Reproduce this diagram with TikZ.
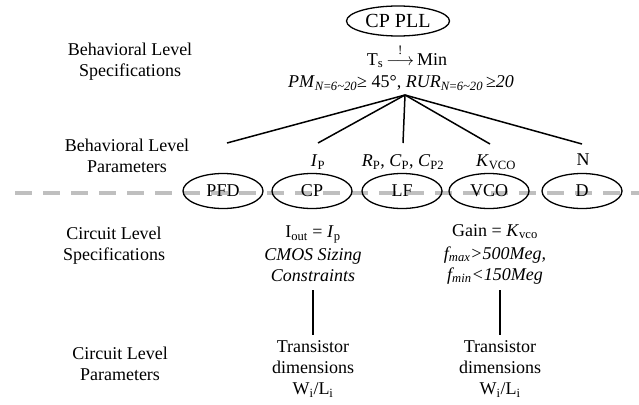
\documentclass[tikz,border=0pt]{standalone}
\usepackage{amsmath}
\usepackage{fontspec}
\setmainfont{Liberation Serif}
\usetikzlibrary{shapes.geometric}
\newcommand{\subs}[1]{\textsubscript{#1}}
\begin{document}
\begin{tikzpicture}[x=1pt,y=-1pt,
  every node/.style={inner sep=0pt,outer sep=0pt},
  lbl/.style={align=center,font=\fontsize{18}{21}\selectfont},
  blk/.style={ellipse,draw,line width=1.3pt,minimum width=80pt,minimum height=35pt,font=\fontsize{18}{21}\selectfont},
  top/.style={ellipse,draw,line width=1.3pt,minimum width=103pt,minimum height=30pt,font=\fontsize{20}{24}\selectfont},
  conn/.style={line width=1.5pt},
  sepline/.style={line width=4pt,color=black!25,dash pattern=on 17pt off 11pt}]
\useasboundingbox (0,0) rectangle (639,404);
% separator
\coordinate (sL) at (15,193);
\coordinate (sR) at (639,193);
\draw[sepline] (sL) -- (sR);
% left labels
\node[lbl] (bls) at (130,62) {Behavioral Level\\Specifications};
\node[lbl] (blp) at (127,156) {Behavioral Level\\Parameters};
\node[lbl] (cls) at (114,246) {Circuit Level\\Specifications};
\node[lbl] (clp) at (120,364) {Circuit Level\\Parameters};
% top
\node[top] (pll) at (398,21) {CP PLL};
\node[lbl] (ts) at (407,56) {T\subs{s}\,$\overset{\raisebox{1pt}{\fontsize{13}{13}\selectfont !}}{\longrightarrow}$\,Min};
\node[lbl] (pm) at (401,83) {\textit{PM}\subs{\textit{N}=\textit{6\textasciitilde20}}≥ 45°, \textit{RUR}\subs{\textit{N}=\textit{6\textasciitilde20}}\,≥\textit{20}};
\coordinate (apex) at (405,95);
\coordinate (e1) at (227,143);
\coordinate (e2) at (318,143);
\coordinate (e3) at (403,143);
\coordinate (e4) at (490,144);
\coordinate (e5) at (582,144);
\draw[conn] (apex) -- (e1);
\draw[conn] (apex) -- (e2);
\draw[conn] (apex) -- (e3);
\draw[conn] (apex) -- (e4);
\draw[conn] (apex) -- (e5);
% parameters
\node[lbl] (pI) at (318,162) {\textit{I}\subs{P}};
\node[lbl] (pR) at (403,162) {\textit{R}\subs{P}, \textit{C}\subs{P}, \textit{C}\subs{P2}};
\node[lbl] (pK) at (496,162) {\textit{K}\subs{VCO}};
\node[lbl] (pN) at (583,160) {N};
% blocks
\node[blk] (pfd) at (223,191) {PFD};
\node[blk] (cp) at (312,191) {CP};
\node[blk] (lf) at (402,191) {LF};
\node[blk] (vco) at (489,191) {VCO};
\node[blk] (d) at (582,191) {D};
% circuit specs
\node[lbl] (cps) at (313,254) {I\subs{out} = \textit{I}\subs{p}\\[2pt]\textit{CMOS Sizing}\\\textit{Constraints}};
\node[lbl] (vcos) at (495,254) {Gain = \textit{K}\subs{vco}\\[2pt]\textit{f\subs{max}>500Meg,}\\\textit{f\subs{min}<150Meg}};
\coordinate (c1t) at (313,290);
\coordinate (c1b) at (313,335);
\coordinate (c2t) at (500,290);
\coordinate (c2b) at (500,335);
\draw[conn] (c1t) -- (c1b);
\draw[conn] (c2t) -- (c2b);
\node[lbl] (td1) at (313,369) {Transistor\\dimensions\\W\subs{i}/L\subs{i}};
\node[lbl] (td2) at (500,369) {Transistor\\dimensions\\W\subs{i}/L\subs{i}};
\end{tikzpicture}
\end{document}
